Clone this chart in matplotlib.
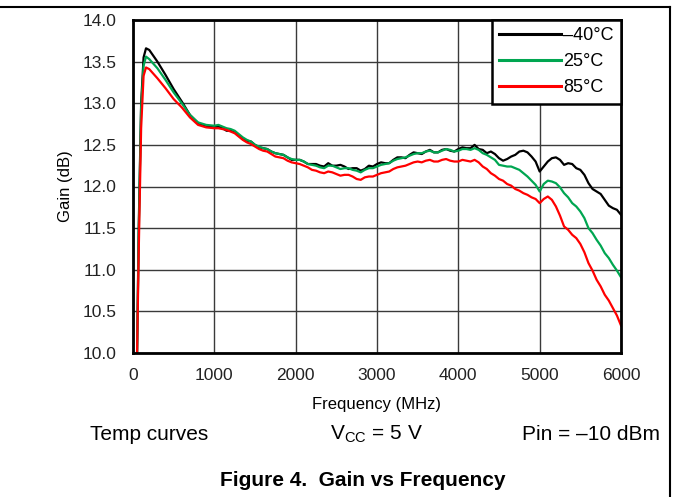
import matplotlib
matplotlib.use("Agg")
import matplotlib.pyplot as plt
from matplotlib.lines import Line2D

plt.rcParams['font.family'] = ['Liberation Sans', 'DejaVu Sans']

# frequency (MHz): coarse near the start, then every 50 MHz
freq = [50, 70, 100, 130, 160, 200, 300, 400, 500, 600, 700, 800, 900] + \
    list(range(1000, 6001, 50))

# gain (dB) per temperature
gain_m40 = [10.0, 11.5, 13.0, 13.55, 13.66, 13.64, 13.50, 13.34, 13.17, 13.02,
            12.86, 12.76, 12.72,
            12.71, 12.72, 12.70, 12.67, 12.67, 12.65, 12.61, 12.57, 12.55, 12.54,
            12.50, 12.47, 12.46, 12.45, 12.42, 12.40, 12.39, 12.38, 12.35, 12.32,
            12.32, 12.32, 12.30, 12.27, 12.27, 12.27, 12.25, 12.24, 12.28, 12.25,
            12.25, 12.26, 12.24, 12.21, 12.22, 12.22, 12.19, 12.21, 12.25, 12.24,
            12.27, 12.29, 12.28, 12.28, 12.32, 12.35, 12.35, 12.34, 12.38, 12.41,
            12.40, 12.39, 12.42, 12.44, 12.41, 12.41, 12.44, 12.45, 12.43, 12.42,
            12.45, 12.47, 12.46, 12.46, 12.50, 12.45, 12.44, 12.40, 12.42, 12.39,
            12.34, 12.31, 12.33, 12.36, 12.38, 12.42, 12.43, 12.41, 12.36, 12.30,
            12.18, 12.24, 12.30, 12.34, 12.35, 12.32, 12.26, 12.28, 12.27, 12.22,
            12.20, 12.14, 12.04, 11.97, 11.94, 11.91, 11.84, 11.77, 11.74, 11.72,
            11.66]
gain_25 = [10.0, 11.4, 12.95, 13.45, 13.56, 13.53, 13.42, 13.28, 13.13, 13.00,
           12.86, 12.77, 12.74,
           12.73, 12.74, 12.72, 12.70, 12.69, 12.67, 12.63, 12.59, 12.56, 12.54,
           12.50, 12.48, 12.46, 12.45, 12.42, 12.40, 12.39, 12.38, 12.35, 12.33,
           12.32, 12.32, 12.30, 12.27, 12.26, 12.25, 12.23, 12.22, 12.25, 12.25,
           12.23, 12.21, 12.22, 12.22, 12.20, 12.19, 12.17, 12.20, 12.22, 12.22,
           12.24, 12.26, 12.27, 12.28, 12.31, 12.33, 12.34, 12.35, 12.37, 12.39,
           12.40, 12.40, 12.42, 12.43, 12.41, 12.41, 12.43, 12.45, 12.44, 12.42,
           12.43, 12.45, 12.45, 12.44, 12.46, 12.44, 12.40, 12.38, 12.35, 12.32,
           12.26, 12.25, 12.24, 12.24, 12.22, 12.20, 12.16, 12.12, 12.07, 12.02,
           11.94, 12.03, 12.07, 12.06, 12.04, 11.99, 11.92, 11.87, 11.80, 11.76,
           11.70, 11.62, 11.50, 11.44, 11.36, 11.29, 11.20, 11.14, 11.06, 10.99,
           10.91]
gain_85 = [10.0, 11.2, 12.7, 13.33, 13.43, 13.41, 13.30, 13.18, 13.05, 12.95,
           12.83, 12.74, 12.71,
           12.70, 12.70, 12.69, 12.68, 12.66, 12.64, 12.60, 12.56, 12.53, 12.51,
           12.48, 12.45, 12.43, 12.42, 12.39, 12.36, 12.35, 12.34, 12.31, 12.29,
           12.28, 12.27, 12.25, 12.23, 12.20, 12.19, 12.17, 12.16, 12.18, 12.17,
           12.15, 12.13, 12.14, 12.14, 12.12, 12.09, 12.08, 12.11, 12.12, 12.12,
           12.14, 12.16, 12.17, 12.18, 12.21, 12.23, 12.24, 12.25, 12.27, 12.29,
           12.30, 12.29, 12.31, 12.32, 12.30, 12.30, 12.32, 12.33, 12.31, 12.30,
           12.30, 12.32, 12.31, 12.30, 12.32, 12.29, 12.24, 12.21, 12.16, 12.13,
           12.09, 12.07, 12.03, 12.01, 11.97, 11.95, 11.92, 11.90, 11.87, 11.85,
           11.80, 11.85, 11.88, 11.84, 11.76, 11.65, 11.52, 11.48, 11.42, 11.38,
           11.31, 11.21, 11.08, 10.99, 10.88, 10.80, 10.70, 10.63, 10.54, 10.45,
           10.33]

labels = ['\u201340\u00b0C', '25\u00b0C', '85\u00b0C']
colors = ['black', '#00a651', '#ff0000']

fig = plt.figure(figsize=(6.73, 4.97), dpi=100)
ax = fig.add_axes([133 / 673, 1 - 353 / 497, 488 / 673, 333 / 497])

for g, c in zip([gain_m40, gain_25, gain_85], colors):
    ax.plot(freq, g, color=c, linewidth=1.6, solid_joinstyle='round')

ax.set_xlim(0, 6000)
ax.set_ylim(10, 14)
ax.set_xticks(range(0, 6001, 1000))
ax.set_yticks([10 + 0.5 * i for i in range(9)])
ax.set_yticklabels(['%.1f' % (10 + 0.5 * i) for i in range(9)])
ax.grid(True, color='#3a3a3a', linewidth=1.0)
ax.tick_params(length=0, labelsize=12.5, colors='#222222')
ax.tick_params(axis='y', pad=12)
ax.tick_params(axis='x', pad=11)
for s in ax.spines.values():
    s.set_linewidth(2.0)
ax.set_xlabel('Frequency (MHz)', fontsize=12, labelpad=10)
ax.set_ylabel('Gain (dB)', fontsize=12, labelpad=7)

handles = [Line2D([], [], color=c, linewidth=2.2) for c in colors]
leg = ax.legend(handles, labels, loc='upper right', bbox_to_anchor=(1.0, 1.0),
                borderaxespad=0, fontsize=13, fancybox=False, framealpha=1,
                edgecolor='black', handlelength=3.4, handletextpad=0.15,
                labelspacing=0.5, borderpad=0.4)
leg.get_frame().set_linewidth(1.8)

fig.text(90 / 673, 1 - 434 / 497, 'Temp curves', fontsize=15, va='center')
fig.text(376 / 673, 1 - 434 / 497, r'V$_{\mathregular{CC}}$ = 5 V', fontsize=15,
         va='center', ha='center')
fig.text(660 / 673, 1 - 434 / 497, 'Pin = \u201310 dBm', fontsize=15,
         va='center', ha='right')
fig.text(363 / 673, 1 - 481 / 497, 'Figure 4.  Gain vs Frequency', fontsize=15,
         fontweight='bold', va='center', ha='center')

# page frame lines
fig.add_artist(Line2D([0, 670 / 673], [1 - 7 / 497] * 2, color='black',
                      linewidth=1.5, transform=fig.transFigure))
fig.add_artist(Line2D([670 / 673] * 2, [0, 1 - 7 / 497], color='black',
                      linewidth=1.5, transform=fig.transFigure))

fig.savefig('out.png', dpi=100)
